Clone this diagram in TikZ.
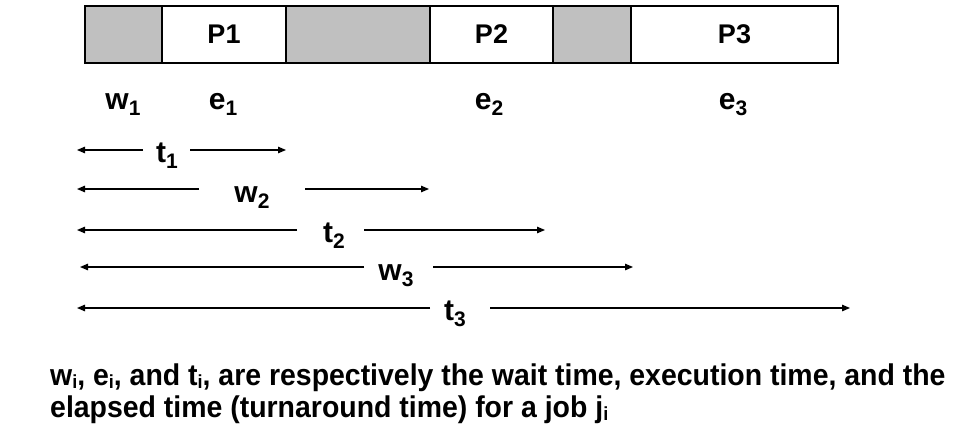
\documentclass[tikz,border=0pt]{standalone}
\usepackage{fontspec}
\setmainfont{Liberation Sans}
\usetikzlibrary{arrows.meta}
\newcommand{\nx}[1]{\scalebox{0.948}[1]{#1}}
\newcommand{\lsub}[1]{\raisebox{-6pt}{\fontsize{21}{21}\selectfont #1}}
\newcommand{\csub}[1]{\raisebox{-3.5pt}{\fontsize{19}{19}\selectfont #1}}
\definecolor{cellgray}{RGB}{192,192,192}
\begin{document}
\begin{tikzpicture}[x=1pt,y=-1pt,
  cell/.style={draw=black, line width=1.2pt, minimum height=57pt, inner sep=0pt, outer sep=0pt, anchor=west, font=\fontsize{27}{30}\selectfont\bfseries},
  gcell/.style={cell, fill=cellgray},
  lbl/.style={font=\fontsize{30}{33}\selectfont\bfseries, inner sep=0pt},
  captext/.style={font=\fontsize{30}{32}\selectfont\bfseries, inner sep=0pt},
  arr/.style={line width=1.3pt, -{Triangle[length=8pt,width=6.5pt]}}]
\useasboundingbox (0,0) rectangle (976,433);
% bar
\node[gcell, minimum width=77pt]  (c1) at (85,34.5) {};
\node[cell,  minimum width=124pt] (c2) at (162,34.5) {P1};
\node[gcell, minimum width=144pt] (c3) at (286,34.5) {};
\node[cell,  minimum width=123pt] (c4) at (430,34.5) {P2};
\node[gcell, minimum width=78pt]  (c5) at (553,34.5) {};
\node[cell,  minimum width=207pt] (c6) at (631,34.5) {P3};
% labels under the bar
\node[lbl, anchor=base] (w1) at (123,110) {w\lsub{1}};
\node[lbl, anchor=base] (e1) at (223,110) {e\lsub{1}};
\node[lbl, anchor=base] (e2) at (489,110) {e\lsub{2}};
\node[lbl, anchor=base] (e3) at (733,110) {e\lsub{3}};
% t1
\node[lbl, anchor=base] (t1) at (167,162) {t\lsub{1}};
\coordinate (t1L) at (77,150); \coordinate (t1a) at (143,150);
\coordinate (t1b) at (190,150); \coordinate (t1R) at (286,150);
\draw[arr] (t1a) -- (t1L); \draw[arr] (t1b) -- (t1R);
% w2
\node[lbl, anchor=base] (w2) at (252,202) {w\lsub{2}};
\coordinate (w2L) at (77,189); \coordinate (w2a) at (199,189);
\coordinate (w2b) at (305,189); \coordinate (w2R) at (429,189);
\draw[arr] (w2a) -- (w2L); \draw[arr] (w2b) -- (w2R);
% t2
\node[lbl, anchor=base] (t2) at (334,242) {t\lsub{2}};
\coordinate (t2L) at (77,230); \coordinate (t2a) at (297,230);
\coordinate (t2b) at (364,230); \coordinate (t2R) at (545,230);
\draw[arr] (t2a) -- (t2L); \draw[arr] (t2b) -- (t2R);
% w3
\node[lbl, anchor=base] (w3) at (396,280) {w\lsub{3}};
\coordinate (w3L) at (80,267); \coordinate (w3a) at (364,267);
\coordinate (w3b) at (433,267); \coordinate (w3R) at (633,267);
\draw[arr] (w3a) -- (w3L); \draw[arr] (w3b) -- (w3R);
% t3
\node[lbl, anchor=base] (t3) at (455,320) {t\lsub{3}};
\coordinate (t3L) at (77,308); \coordinate (t3a) at (430,308);
\coordinate (t3b) at (490,308); \coordinate (t3R) at (850,308);
\draw[arr] (t3a) -- (t3L); \draw[arr] (t3b) -- (t3R);
% caption
\node[captext, anchor=base west] (cap1) at (50,385) {\nx{w\csub{i}, e\csub{i}, and t\csub{i}, are respectively the wait time, execution time, and the}};
\node[captext, anchor=base west] (cap2) at (50,417) {\nx{elapsed time (turnaround time) for a job j\csub{i}}};
\end{tikzpicture}
\end{document}
